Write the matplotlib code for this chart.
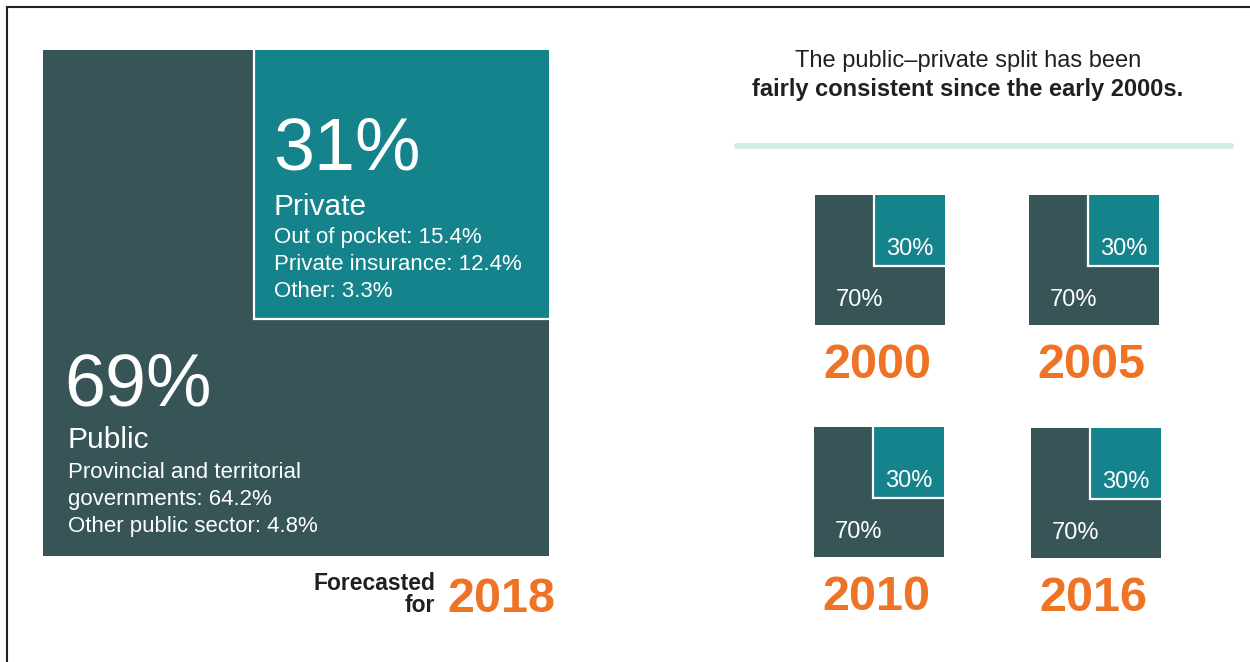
import numpy as np
import matplotlib.pyplot as plt
from matplotlib.patches import Rectangle

plt.rcParams['font.family'] = ['Liberation Sans', 'DejaVu Sans']

# 2018 forecast split
public_2018 = 69
private_2018 = 31
public_parts = ["Provincial and territorial", "governments: 64.2%", "Other public sector: 4.8%"]
private_parts = ["Out of pocket: 15.4%", "Private insurance: 12.4%", "Other: 3.3%"]

# history
years = ["2000", "2005", "2010", "2016"]
public_hist = [70, 70, 70, 70]
private_hist = [30, 30, 30, 30]

DARK = "#375557"
TEAL = "#15838b"
ORANGE = "#ee7325"
TXT = "#231f20"

fig = plt.figure(figsize=(12.5, 6.62), dpi=100)
ax = fig.add_axes([0, 0, 1, 1])
ax.set_xlim(0, 1250)
ax.set_ylim(662, 0)
ax.axis('off')

# frame lines (top and left only)
ax.plot([7, 1250], [7, 7], color="#222222", lw=1.5)
ax.plot([7, 7], [7, 662], color="#222222", lw=1.5)


def split_square(x0, y0, side, private, wfrac):
    # whole square = public + private, private block sits top-right
    ax.add_patch(Rectangle((x0, y0), side, side, facecolor=DARK, edgecolor='none'))
    w = side * wfrac
    h = side * side * private / 100.0 / w
    left = x0 + side - w
    ax.add_patch(Rectangle((left, y0), w, h, facecolor=TEAL, edgecolor='none'))
    # white seam on the inner edges only
    ax.plot([left, left, x0 + side], [y0, y0 + h, y0 + h], color='white', lw=1.6,
            solid_joinstyle='miter')
    return left, y0 + h


# big square
bx, by, bs = 43, 50, 506
tx, ty = split_square(bx, by, bs, private_2018, 0.583)

ax.text(tx + 19, 170, f"{private_2018}%", color='white', fontsize=53, va='baseline')
ax.text(tx + 19, 215, "Private", color='white', fontsize=21.5, va='baseline')
for i, s in enumerate(private_parts):
    ax.text(tx + 20, 243 + 27 * i, s, color='white', fontsize=16, va='baseline')

ax.text(bx + 21, 405, f"{public_2018}%", color='white', fontsize=53, va='baseline')
ax.text(bx + 24, 448, "Public", color='white', fontsize=21.5, va='baseline')
for i, s in enumerate(public_parts):
    ax.text(bx + 25, 478 + 27 * i, s, color='white', fontsize=16, va='baseline')

ax.text(435, 590, "Forecasted", color=TXT, fontsize=16.5, fontweight='bold',
        ha='right', va='baseline')
ax.text(435, 612, "for", color=TXT, fontsize=16.5, fontweight='bold',
        ha='right', va='baseline')
ax.text(447, 612, "2018", color=ORANGE, fontsize=35, fontweight='bold',
        ha='left', va='baseline')

# right panel heading
ax.text(968, 67, "The public\u2013private split has been", color=TXT, fontsize=17,
        ha='center', va='baseline')
ax.text(968, 96, "fairly consistent since the early 2000s.", color=TXT, fontsize=17,
        fontweight='bold', ha='center', va='baseline')
ax.plot([737, 1231], [146, 146], color="#d3eae6", lw=4.5, solid_capstyle='round')

# small squares
pos = [(815, 195), (1029, 195), (814, 427), (1031, 428)]
side = 130
for (x0, y0), yr, pub, prv in zip(pos, years, public_hist, private_hist):
    px, py = split_square(x0, y0, side, prv, np.sqrt(prv / 100.0))
    ax.text((px + x0 + side) / 2, py - 11, f"{prv}%", color='white', fontsize=17,
            ha='center', va='baseline')
    ax.text(x0 + 21, y0 + side - 19, f"{pub}%", color='white', fontsize=17,
            ha='left', va='baseline')
    ax.text(x0 + side / 2 - 3, y0 + side + 53, yr, color=ORANGE, fontsize=35,
            fontweight='bold', ha='center', va='baseline')

fig.savefig("out.png", dpi=100)
